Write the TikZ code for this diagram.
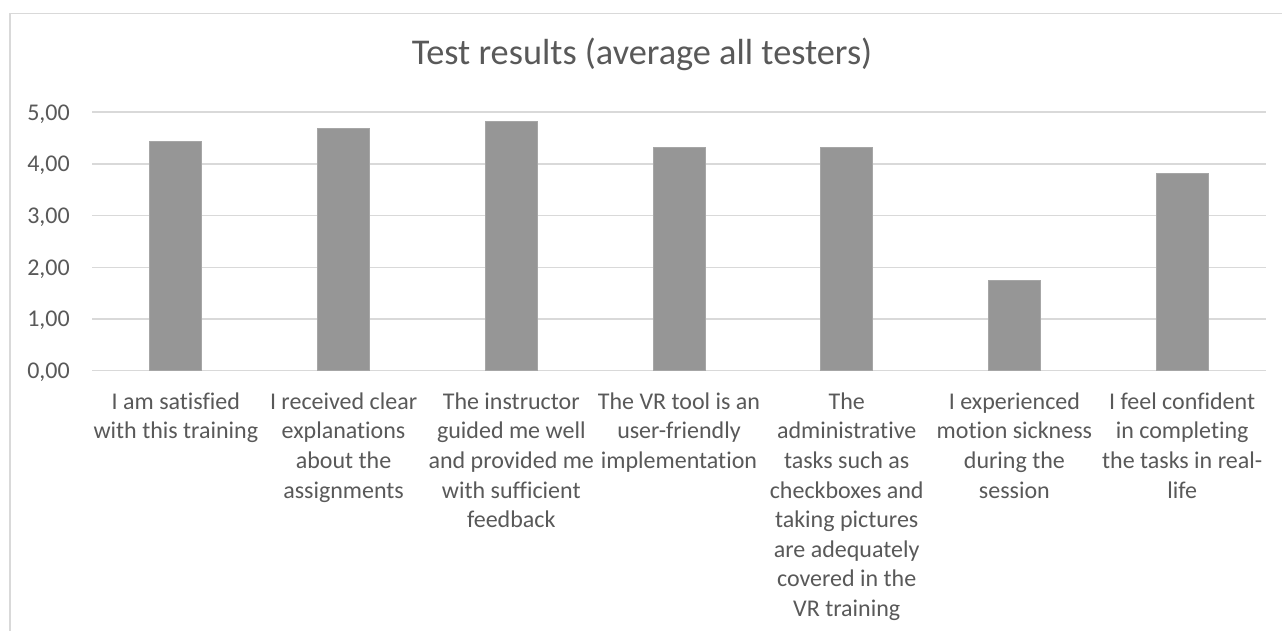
\documentclass[tikz,border=0pt]{standalone}
\usepackage{fontspec}
\setmainfont{Carlito}[Ligatures=NoCommon]
\definecolor{txt}{HTML}{595959}
\definecolor{grid}{HTML}{D9D9D9}
\definecolor{bar}{HTML}{969696}
\tikzset{
  gridline/.style={draw=grid, line width=1.5pt},
  barbox/.style={fill=bar, draw=bar!85!white, line width=0.8pt},
  ylab/.style={anchor=base east, inner sep=0pt, text=txt, font=\fontsize{24}{29.6}\selectfont},
  catlab/.style={anchor=north, inner sep=0pt, text=txt, align=center, font=\fontsize{24}{29.6}\selectfont},
  ttl/.style={anchor=base, inner sep=0pt, text=txt, font=\fontsize{36.3}{44}\selectfont},
}
\begin{document}
\begin{tikzpicture}[x=1pt,y=-1pt]
\useasboundingbox (0,0) rectangle (1282,631);
\fill[white] (0,0) rectangle (1282,631);
% frame
\draw[grid, line width=1.3pt] (10,631) -- (10,13.5) -- (1282,13.5);
% title
\node[ttl] (title) at (642,65) {Test results (average all testers)};
% gridlines and y labels
\foreach \v/\lab in {0/{0,00},1/{1,00},2/{2,00},3/{3,00},4/{4,00},5/{5,00}}{
  \pgfmathsetmacro{\yy}{370.7-51.72*\v}
  \coordinate (gl\v) at (92,\yy);
  \coordinate (gr\v) at (1266,\yy);
  \draw[gridline] (gl\v) -- (gr\v);
  \node[ylab] (y\v) at (70,\yy+8) {\lab};
}
% bars
\foreach \i/\val in {1/4.4375,2/4.6875,3/4.8125,4/4.3125,5/4.3125,6/1.75,7/3.8125}{
  \pgfmathsetmacro{\cx}{92+167.71*(\i-0.5)}
  \node[barbox, minimum width=52pt, minimum height={51.72*\val*1pt}, inner sep=0pt, anchor=south, outer sep=0pt] (b\i) at (\cx,370.7) {};
}
% category labels
\foreach \i/\lab in {
  1/{I am satisfied\\with this training},
  2/{I received clear\\explanations\\about the\\assignments},
  3/{The instructor\\guided me well\\and provided me\\with sufficient\\feedback},
  4/{The VR tool is an\\user-friendly\\implementation},
  5/{The\\administrative\\tasks such as\\checkboxes and\\taking pictures\\are adequately\\covered in the\\VR training},
  6/{I experienced\\motion sickness\\during the\\session},
  7/{I feel confident\\in completing\\the tasks in real-\\life}}{
  \pgfmathsetmacro{\cx}{92+167.71*(\i-0.5)}
  \node[catlab] (c\i) at (\cx,392.5) {\lab};
}
\end{tikzpicture}
\end{document}
